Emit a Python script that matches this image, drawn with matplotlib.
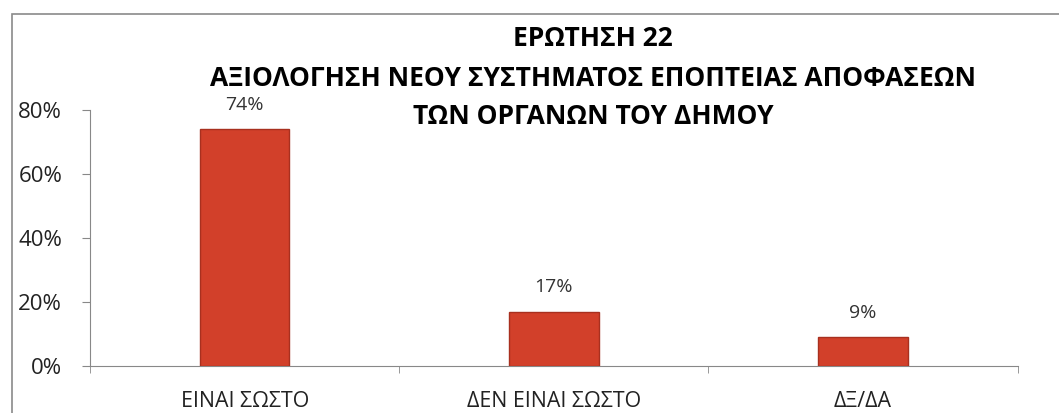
import matplotlib.pyplot as plt
from matplotlib.patches import Rectangle
from matplotlib.ticker import FixedLocator, PercentFormatter

plt.rcParams['font.family'] = ['Open Sans', 'DejaVu Sans']

categories = ['ΕΙΝΑΙ ΣΩΣΤΟ', 'ΔΕΝ ΕΙΝΑΙ ΣΩΣΤΟ', 'ΔΞ/ΔΑ']
values = [74, 17, 9]
title_lines = ['ΕΡΩΤΗΣΗ 22',
               'ΑΞΙΟΛΟΓΗΣΗ ΝΕΟΥ ΣΥΣΤΗΜΑΤΟΣ ΕΠΟΠΤΕΙΑΣ ΑΠΟΦΑΣΕΩΝ',
               'ΤΩΝ ΟΡΓΑΝΩΝ ΤΟΥ ΔΗΜΟΥ']

fig = plt.figure(figsize=(10.59, 4.13), dpi=100)
fig.patches.append(Rectangle((0.0113, -0.05), 1.0, 1.016, transform=fig.transFigure,
                             fill=False, edgecolor='#8a8a8a', linewidth=1.2))
ax = fig.add_axes([0.085, 0.1138, 0.876, 0.62])

x = range(len(categories))
ax.bar(x, values, width=0.29, color='#d2402a', edgecolor='#a8301f', linewidth=1.0, zorder=3)
for i, v in enumerate(values):
    ax.annotate(f'{v}%', (i, v), xytext=(0, 11), textcoords='offset points',
                ha='center', va='bottom', fontsize=14, color='#333333')

ax.set_xlim(-0.5, 2.5)
ax.set_ylim(0, 80)
ax.set_yticks([0, 20, 40, 60, 80])
ax.yaxis.set_major_formatter(PercentFormatter(decimals=0))
ax.set_xticks([0, 1, 2])
ax.set_xticklabels(categories, fontsize=15.4, color='#222222')
ax.xaxis.set_minor_locator(FixedLocator([-0.5, 0.5, 1.5, 2.5]))
ax.tick_params(axis='x', which='major', length=0, pad=18)
ax.tick_params(axis='x', which='minor', length=5, color='#888888', direction='out')
ax.tick_params(axis='y', length=6, color='#888888', labelsize=16, pad=14, labelcolor='#222222')

for s in ['top', 'right']:
    ax.spines[s].set_visible(False)
for s in ['left', 'bottom']:
    ax.spines[s].set_color('#888888')

fig.text(0.56, 0.906, title_lines[0], ha='center', va='center', fontsize=19, fontweight='bold')
fig.text(0.56, 0.811, title_lines[1], ha='center', va='center', fontsize=19, fontweight='bold')
fig.text(0.56, 0.719, title_lines[2], ha='center', va='center', fontsize=19, fontweight='bold')

fig.savefig('out.png', dpi=100)
